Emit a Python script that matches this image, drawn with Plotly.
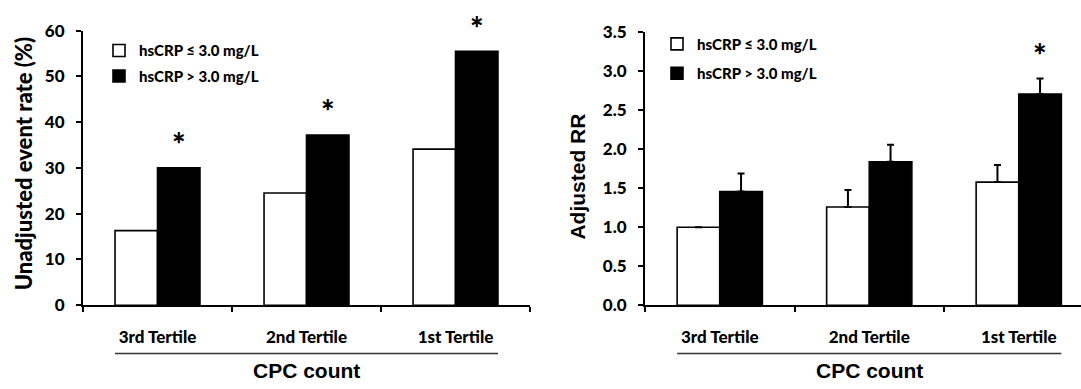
import plotly.graph_objects as go

W, H = 1081, 389

categories = ["3rd Tertile", "2nd Tertile", "1st Tertile"]
series_names = ["hsCRP ≤ 3.0 mg/L", "hsCRP > 3.0 mg/L"]

# Left panel: unadjusted event rate (%)
rate_low = [16.3, 24.5, 34.1]
rate_high = [30.0, 37.2, 55.5]
rate_sig = [True, True, True]             # asterisk above the black bar

# Right panel: adjusted RR with upper error bars
rr_low = [1.00, 1.26, 1.58]
rr_low_err = [None, 0.22, 0.22]
rr_high = [1.46, 1.84, 2.71]
rr_high_err = [0.23, 0.22, 0.20]
rr_sig = [False, False, True]

BARGAP = 0.43
CAL = "Lato"
ARIAL = "Liberation Sans"
BOLD = 900


def px_x(p):
    return p / W


def px_y(p):
    return 1 - p / H


fig = go.Figure()

bar_line = dict(color="black", width=1.6)
fills = ["white", "black"]
left_legends = ["legend", "legend3"]
right_legends = ["legend2", "legend4"]

for i, (vals, name) in enumerate(zip([rate_low, rate_high], series_names)):
    fig.add_trace(go.Bar(
        x=categories, y=vals, name=name, xaxis="x", yaxis="y",
        marker=dict(color=fills[i], line=bar_line),
        legend=left_legends[i],
    ))

for i, (vals, errs, name) in enumerate(zip([rr_low, rr_high], [rr_low_err, rr_high_err], series_names)):
    fig.add_trace(go.Bar(
        x=categories, y=vals, name=name, xaxis="x2", yaxis="y2",
        marker=dict(color=fills[i], line=bar_line),
        error_y=dict(type="data", array=errs, symmetric=False, arrayminus=[0, 0, 0],
                     color="black", thickness=2, width=3.5),
        legend=right_legends[i],
    ))

tickfont = dict(family=CAL, size=17, color="black", weight=BOLD)

xcommon = dict(
    type="category", tickson="boundaries", ticks="outside", ticklen=5, tickwidth=2,
    tickcolor="black", showline=True, linewidth=2, linecolor="black",
    showgrid=False, zeroline=False, tickfont=tickfont, ticklabelstandoff=15,
)
ycommon = dict(
    ticks="outside", ticklen=5, tickwidth=2, tickcolor="black", showline=True,
    linewidth=2, linecolor="black", showgrid=False, zeroline=False,
    tickfont=tickfont, ticklabelstandoff=8,
)


def legend_box(xpx, ypx):
    return dict(x=px_x(xpx), y=px_y(ypx), xanchor="left", yanchor="middle",
                bgcolor="rgba(0,0,0,0)", borderwidth=0,
                font=dict(family=CAL, size=15, color="black", weight=BOLD))


fig.update_layout(
    width=W, height=H,
    margin=dict(l=0, r=0, t=0, b=0),
    paper_bgcolor="white", plot_bgcolor="white",
    barmode="group", bargap=BARGAP, bargroupgap=0,
    xaxis=dict(domain=[px_x(83), px_x(530)], range=[-0.5, 2.5], anchor="y", **xcommon),
    yaxis=dict(domain=[px_y(311), px_y(20.7)], range=[0, 60], dtick=10, anchor="x", **ycommon),
    xaxis2=dict(domain=[px_x(645), 1.0], range=[-0.5, -0.5 + (W - 645) / 149.5], anchor="y2", **xcommon),
    yaxis2=dict(domain=[px_y(311), px_y(22.7)], range=[0, 3.5], dtick=0.5, tickformat=".1f",
                anchor="x2", **ycommon),
    legend=legend_box(99, 42),
    legend3=legend_box(99, 69),
    legend2=legend_box(657, 35),
    legend4=legend_box(657, 66),
    showlegend=True,
)

star_off = (1 - BARGAP) / 4
star_font = dict(family=CAL, size=32, color="black", weight=BOLD)
annotations = []
for i, (v, s) in enumerate(zip(rate_high, rate_sig)):
    if s:
        annotations.append(dict(x=i + star_off, y=v, xref="x", yref="y", text="*",
                                showarrow=False, yshift=24, font=star_font))
for i, (v, e, s) in enumerate(zip(rr_high, rr_high_err, rr_sig)):
    if s:
        annotations.append(dict(x=i + star_off, y=v + e, xref="x2", yref="y2", text="*",
                                showarrow=False, yshift=24, font=star_font))

# axis titles
annotations.append(dict(x=px_x(23), y=px_y(162), xref="paper", yref="paper",
                        text="Unadjusted event rate (%)", textangle=-90, showarrow=False,
                        xanchor="center", yanchor="middle",
                        font=dict(family=CAL, size=22, color="black", weight=BOLD)))
annotations.append(dict(x=px_x(578), y=px_y(175), xref="paper", yref="paper",
                        text="Adjusted RR", textangle=-90, showarrow=False,
                        xanchor="center", yanchor="middle",
                        font=dict(family=ARIAL, size=21, color="black", weight=700)))
for xr in ["x", "x2"]:
    annotations.append(dict(x=1, y=px_y(380), xref=xr, yref="paper", text="CPC count",
                            showarrow=False, xanchor="center", yanchor="middle",
                            font=dict(family=ARIAL, size=21, color="black", weight=700)))

shapes = []
for xr in ["x", "x2"]:
    shapes.append(dict(type="line", xref=xr, yref="paper",
                       x0=-0.5 + BARGAP / 2, x1=2.5 - BARGAP / 2,
                       y0=px_y(362), y1=px_y(362),
                       line=dict(color="#333333", width=1.5)))

fig.update_layout(annotations=annotations, shapes=shapes)

fig.write_html("out.html")
